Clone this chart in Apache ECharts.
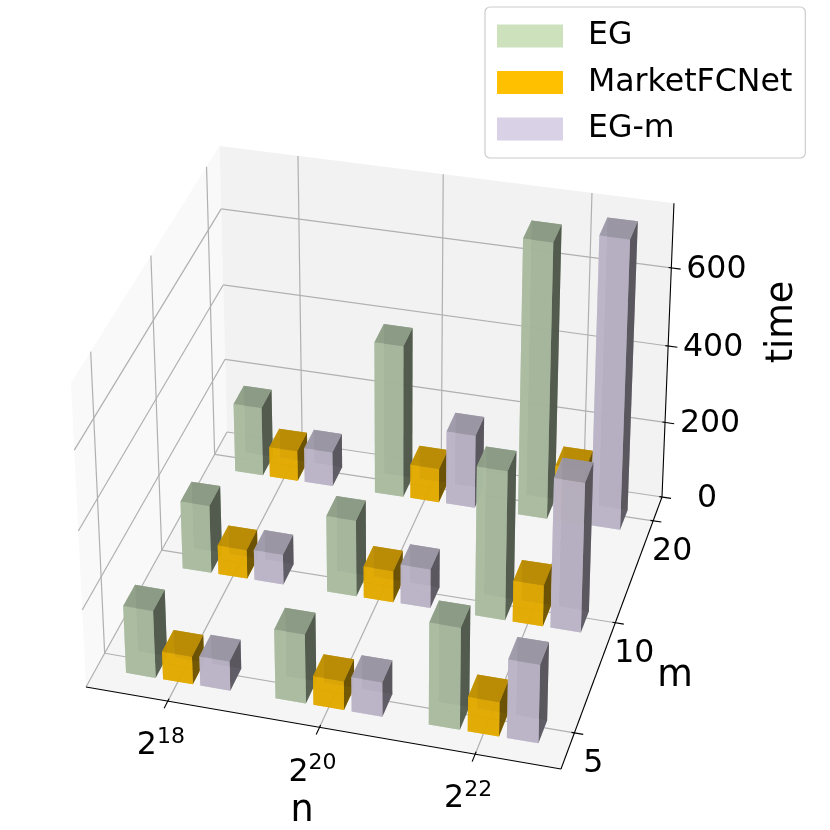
<!DOCTYPE html>
<html>
<head>
<meta charset="utf-8">
<style>
  html, body { margin: 0; background: #fff; }
  #main { width: 830px; height: 830px; }
</style>
</head>
<body>
<div id="main"></div>
<script src="https://cdn.jsdelivr.net/npm/echarts@6/dist/echarts.min.js"></script>
<script>
const nExponents = ['18', '20', '22']
const mLabels = ['5', '10', '20']
const timeTicks = [0, 200, 400, 600]

// one row per m (5, 10, 20), one value per n
const egTimes = [[174, 178, 260], [178, 199, 385], [183, 401, 716]]
const marketTimes = [[72, 74, 88], [76, 82, 107], [80, 90, 145]]
const egmTimes = [[76, 88, 200], [79, 102, 385], [91, 193, 748]]

const seriesNames = ['EG', 'MarketFCNet', 'EG-m']
const seriesColors = ['#cde1bd', '#ffc000', '#d9d2e6']
const seriesRgb = [[192, 213, 180], [255, 192, 0], [213, 205, 225]]

const xLim = [-0.55, 2.541]
const yLim = [-0.311, 2.245]
const zLim = [0, 762]
const barWidth = 0.2
const barOffsets = [-0.35, -0.1, 0.15]
const rowOffset = -0.135

// projective camera for the unit box (fitted to the 3d view of the plot)
const camera = [
  [453.46, 163.9, -18.3, 86],
  [52.47, -211.42, -321.5, 687],
  [-0.0384, 0.10087, -0.046, 1]
]

function unit(x, y, z) {
  return [
    echarts.number.linearMap(x, xLim, [0, 1]),
    echarts.number.linearMap(y, yLim, [0, 1]),
    echarts.number.linearMap(z, zLim, [0, 1])
  ]
}

function projectUnit(p) {
  const w = camera[2][0] * p[0] + camera[2][1] * p[1] + camera[2][2] * p[2] + camera[2][3]
  return [
    (camera[0][0] * p[0] + camera[0][1] * p[1] + camera[0][2] * p[2] + camera[0][3]) / w,
    (camera[1][0] * p[0] + camera[1][1] * p[1] + camera[1][2] * p[2] + camera[1][3]) / w
  ]
}

function project(x, y, z) {
  return projectUnit(unit(x, y, z))
}

function shade(rgb, s, alpha) {
  return 'rgba(' + rgb.map(c => Math.round(c * s)).join(',') + ',' + alpha + ')'
}

function unitLine(a, b, color, width) {
  const p = projectUnit(a)
  const q = projectUnit(b)
  return {
    type: 'line',
    shape: { x1: p[0], y1: p[1], x2: q[0], y2: q[1] },
    style: { stroke: color, lineWidth: width }
  }
}

function pane(corners, fill) {
  return { type: 'polygon', shape: { points: corners.map(projectUnit) }, style: { fill: fill } }
}

function label(text, pos, dx, dy, size) {
  return {
    type: 'text',
    x: pos[0] + dx,
    y: pos[1] + dy,
    style: {
      text: text,
      fontFamily: 'DejaVu Sans',
      fontSize: size,
      fill: '#000',
      align: 'center',
      verticalAlign: 'middle'
    }
  }
}

function renderFrame() {
  const grid = '#b0b0b0'
  const children = [
    pane([[0, 0, 0], [0, 1, 0], [0, 1, 1], [0, 0, 1]], '#f9f9f9'),
    pane([[0, 1, 0], [1, 1, 0], [1, 1, 1], [0, 1, 1]], '#f2f2f2'),
    pane([[0, 0, 0], [1, 0, 0], [1, 1, 0], [0, 1, 0]], '#f5f5f5')
  ]

  nExponents.forEach((exp, i) => {
    const u = unit(i, 0, 0)[0]
    children.push(unitLine([u, 0, 0], [u, 1, 0], grid, 1.2))
    children.push(unitLine([u, 1, 0], [u, 1, 1], grid, 1.2))
  })
  mLabels.forEach((m, j) => {
    const v = unit(0, j, 0)[1]
    children.push(unitLine([1, v, 0], [0, v, 0], grid, 1.2))
    children.push(unitLine([0, v, 0], [0, v, 1], grid, 1.2))
  })
  timeTicks.forEach(t => {
    const w = unit(0, 0, t)[2]
    children.push(unitLine([1, 1, w], [0, 1, w], grid, 1.2))
    children.push(unitLine([0, 1, w], [0, 0, w], grid, 1.2))
  })

  children.push(unitLine([0, 0, 0], [1, 0, 0], '#000', 1.1))
  children.push(unitLine([1, 0, 0], [1, 1, 0], '#000', 1.1))
  children.push(unitLine([1, 1, 0], [1, 1, 1], '#000', 1.1))

  nExponents.forEach((exp, i) => {
    const u = unit(i, 0, 0)[0]
    children.push(unitLine([u, 0.008, 0], [u, -0.025, 0], '#000', 1.1))
    const base = projectUnit([u, 0, 0])
    children.push({
      type: 'text',
      x: base[0] - 7,
      y: base[1] + 43,
      style: {
        text: '{b|2}{s|' + exp + '}',
        align: 'center',
        verticalAlign: 'middle',
        fill: '#000',
        fontFamily: 'DejaVu Sans',
        rich: {
          b: { fontFamily: 'DejaVu Sans', fontSize: 31.6, fill: '#000', verticalAlign: 'bottom' },
          s: { fontFamily: 'DejaVu Sans', fontSize: 22, fill: '#000', verticalAlign: 'bottom', padding: [0, 0, 14, 0] }
        }
      }
    })
  })
  mLabels.forEach((m, j) => {
    const v = unit(0, j, 0)[1]
    children.push(unitLine([0.994, v, 0], [1.018, v, 0], '#000', 1.1))
    children.push(label(m, projectUnit([1, v, 0]), 19, 31, 31.6))
  })
  timeTicks.forEach(t => {
    const w = unit(0, 0, t)[2]
    children.push(unitLine([0.994, 1, w], [1.02, 1, w], '#000', 1.1))
    children.push(label(String(t), projectUnit([1, 1, w]), 45, 1.5, 31.6))
  })

  children.push(label('n', [302, 812], 0, 0, 36.5))
  children.push(label('m', [675, 677], 0, 0, 36.5))
  const timeLabel = label('time', [783, 322], 0, 0, 36.5)
  timeLabel.rotation = Math.PI / 2
  children.push(timeLabel)

  return { type: 'group', children: children }
}

function renderBar(params, api) {
  const xi = api.value(0)
  const yi = api.value(1)
  const value = api.value(2)
  const si = params.seriesIndex - 1
  const rgb = seriesRgb[si]
  const x0 = xi + barOffsets[si]
  const x1 = x0 + barWidth
  const y0 = yi + rowOffset
  const y1 = y0 + barWidth
  const corner = (x, y, z) => project(x, y, z)
  const faces = [
    { pts: [[x0, y0, 0], [x1, y0, 0], [x1, y1, 0], [x0, y1, 0]], s: 0.95 },
    { pts: [[x0, y1, 0], [x1, y1, 0], [x1, y1, value], [x0, y1, value]], s: 0.72 },
    { pts: [[x0, y0, 0], [x0, y1, 0], [x0, y1, value], [x0, y0, value]], s: 0.95 },
    { pts: [[x1, y0, 0], [x1, y1, 0], [x1, y1, value], [x1, y0, value]], s: 0.36 },
    { pts: [[x0, y0, 0], [x1, y0, 0], [x1, y0, value], [x0, y0, value]], s: 0.87 },
    { pts: [[x0, y0, value], [x1, y0, value], [x1, y1, value], [x0, y1, value]], s: 0.72 }
  ]
  // far rows first, then left to right, like the depth sort of the 3d plot
  const order = (2 - yi) * 1000 + xi * 100 + si * 10
  return {
    type: 'group',
    children: faces.map((f, k) => ({
      type: 'polygon',
      z2: order + k,
      shape: { points: f.pts.map(p => corner(p[0], p[1], p[2])) },
      style: { fill: shade(rgb, f.s, 0.85) }
    }))
  }
}

function barData(rows) {
  const out = []
  rows.forEach((row, j) => row.forEach((v, i) => out.push([i, j, v])))
  return out
}

const chart = echarts.init(document.getElementById('main'), null, { renderer: 'canvas' })
chart.setOption({
  animation: false,
  backgroundColor: '#fff',
  legend: {
    left: 485,
    top: 7,
    orient: 'vertical',
    align: 'left',
    selectedMode: false,
    icon: 'rect',
    itemWidth: 66,
    itemHeight: 23,
    itemGap: 14.5,
    padding: [13, 13, 13, 12],
    borderColor: '#cccccc',
    borderWidth: 1.2,
    borderRadius: 5,
    backgroundColor: '#fff',
    textStyle: { fontFamily: 'DejaVu Sans', fontSize: 31.6, color: '#000', padding: [0, 0, 0, 20] },
    data: seriesNames
  },
  series: [
    { type: 'custom', coordinateSystem: 'none', silent: true, z: 1, data: [[0]], renderItem: renderFrame },
    { type: 'custom', name: seriesNames[0], coordinateSystem: 'none', silent: true, z: 2, itemStyle: { color: seriesColors[0] }, data: barData(egTimes), renderItem: renderBar },
    { type: 'custom', name: seriesNames[1], coordinateSystem: 'none', silent: true, z: 2, itemStyle: { color: seriesColors[1] }, data: barData(marketTimes), renderItem: renderBar },
    { type: 'custom', name: seriesNames[2], coordinateSystem: 'none', silent: true, z: 2, itemStyle: { color: seriesColors[2] }, data: barData(egmTimes), renderItem: renderBar }
  ]
})
</script>
</body>
</html>
